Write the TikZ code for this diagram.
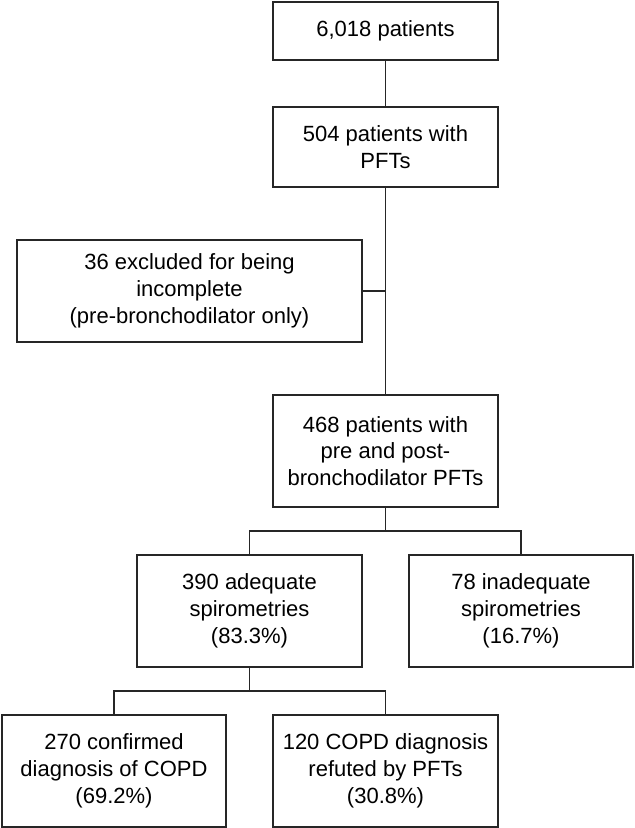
\documentclass[tikz,border=0pt]{standalone}
\usepackage{fontspec}
\setmainfont{Liberation Sans}
\usetikzlibrary{calc}

\tikzset{
  flowbox/.style={draw=black!85, line width=0.6pt, fill=white, align=center,
    font=\fontsize{11}{13.4}\selectfont, inner sep=2pt},
  link/.style={draw=black!85, line width=0.6pt}
}

\begin{document}
\begin{tikzpicture}[x=0.5pt, y=-0.5pt]
\useasboundingbox (0,0) rectangle (635,828);

\node[flowbox, minimum width=112.5pt, minimum height=29pt] (total) at (385.5,31) {6,018 patients};
\node[flowbox, minimum width=112.5pt, minimum height=40pt] (pft) at (385.5,147) {504 patients with\\PFTs};
\node[flowbox, minimum width=172.5pt, minimum height=51pt] (excl) at (189.5,291) {36 excluded for being\\incomplete\\(pre-bronchodilator only)};
\node[flowbox, minimum width=112.5pt, minimum height=56pt] (prepost) at (385.5,451) {468 patients with\\pre and post-\\bronchodilator PFTs};
\node[flowbox, minimum width=112.5pt, minimum height=56pt] (adeq) at (249.5,611) {390 adequate\\spirometries\\(83.3\%)};
\node[flowbox, minimum width=112pt, minimum height=56pt] (inadeq) at (521,611) {78 inadequate\\spirometries\\(16.7\%)};
\node[flowbox, minimum width=112pt, minimum height=56pt] (conf) at (114,771) {270 confirmed\\diagnosis of COPD\\(69.2\%)};
\node[flowbox, minimum width=112.5pt, minimum height=56pt] (refut) at (385.5,771) {120 COPD diagnosis\\refuted by PFTs\\(30.8\%)};

\coordinate (split1) at (385.5,531);
\coordinate (split2) at (249.5,691);

\draw[link] (total.south) -- (pft.north);
\draw[link] (pft.south) -- (prepost.north);
\draw[link] (excl.east) -- (excl.east -| pft.south);
\draw[link] (prepost.south) -- (split1);
\draw[link] (adeq.north) |- (split1) -| (inadeq.north);
\draw[link] (adeq.south) -- (split2);
\draw[link] (conf.north) |- (split2) -| (refut.north);

\end{tikzpicture}
\end{document}
